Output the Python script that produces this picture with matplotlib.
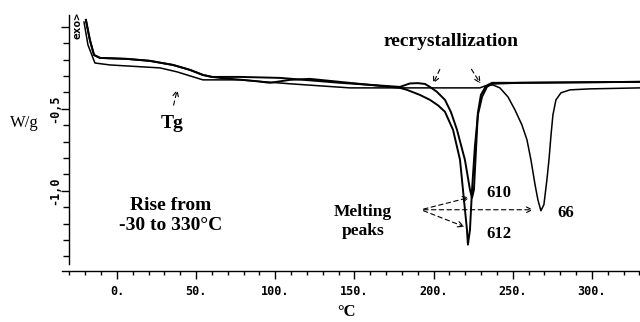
import numpy as np
import matplotlib
matplotlib.use('Agg')
from matplotlib import pyplot as plt
from matplotlib.ticker import MultipleLocator, FixedLocator

# DSC traces (deg C, W/g)
t610 = [-19.6, -17.1, -14.5, -10.7, 6.3, 20.8, 35.4, 46.1, 54.3, 60.0, 77.7, 103.0, 140.9,
        178.8, 185.0, 190.0, 194.6, 197.7, 202.0, 207.2, 211.0, 214.8, 219.8, 223.0, 224.3,
        225.5, 226.8, 228.0, 229.9, 233.1, 236.9, 254.6, 330.4]
w610 = [0.043, -0.079, -0.171, -0.189, -0.195, -0.207, -0.232, -0.262, -0.293, -0.305, -0.305,
        -0.311, -0.341, -0.366, -0.345, -0.343, -0.348, -0.366, -0.395, -0.445, -0.52, -0.628,
        -0.811, -0.994, -1.043, -0.994, -0.75, -0.524, -0.415, -0.360, -0.341, -0.341, -0.335]

t612 = [-19.6, -17.1, -14.5, -10.7, 6.3, 20.8, 35.4, 46.1, 54.3, 60.0, 65.1, 85.9, 96.7, 109.3,
        121.9, 178.8, 183.2, 191.4, 197.7, 203.0, 207.2, 212.3, 216.7, 219.2, 221.1, 221.7,
        223.0, 224.3, 226.1, 228.0, 230.6, 233.7, 236.9, 254.6, 330.4]
w612 = [0.043, -0.079, -0.171, -0.189, -0.195, -0.207, -0.232, -0.262, -0.293, -0.305, -0.311,
        -0.329, -0.341, -0.323, -0.317, -0.372, -0.384, -0.415, -0.445, -0.48, -0.518, -0.628,
        -0.811, -1.055, -1.238, -1.329, -1.238, -0.994, -0.732, -0.537, -0.427, -0.366, -0.347,
        -0.341, -0.335]

t66 = [-20.8, -18.3, -13.9, -4.4, 27.2, 37.9, 54.3, 77.7, 109.3, 147.2, 178.8, 229.3, 232.5,
       237.5, 241.9, 247.0, 251.4, 255.8, 259.0, 261.5, 264.1, 265.9, 267.8, 269.7, 271.6,
       272.9, 274.2, 275.4, 277.3, 280.5, 286.2, 298.8, 330.4]
w66 = [0.030, -0.11, -0.220, -0.232, -0.25, -0.274, -0.323, -0.323, -0.347, -0.372, -0.372,
       -0.372, -0.360, -0.354, -0.372, -0.427, -0.506, -0.598, -0.689, -0.811, -0.963, -1.055,
       -1.122, -1.085, -0.933, -0.811, -0.659, -0.537, -0.445, -0.402, -0.384, -0.378, -0.372]

x_major = [0, 50, 100, 150, 200, 250, 300]
x_labels = ['0.', '50.', '100.', '150.', '200.', '250.', '300.']
y_major = [-1.0, -0.5, 0.0]
y_labels = ['-1,0', '-0,5', '']

serif = 'Liberation Serif'
mono = 'DejaVu Sans Mono'

fig = plt.figure(figsize=(6.4, 3.22), dpi=100)
ax = fig.add_axes([62 / 640, 1 - 271 / 322, 578 / 640, (271 - 15) / 322])

ax.plot(t610, w610, color='black', lw=1.4)
ax.plot(t612, w612, color='black', lw=1.4)
ax.plot(t66, w66, color='black', lw=1.1)

ax.set_xlim(-34.7, 330.4)
ax.set_ylim(-1.49, 0.073)

for s in ['top', 'right']:
	ax.spines[s].set_visible(False)
ax.spines['left'].set_position(('data', -30))
ax.spines['left'].set_bounds(-1.45, 0.073)
ax.spines['left'].set_linewidth(1.0)
ax.spines['bottom'].set_linewidth(1.0)

ax.xaxis.set_major_locator(FixedLocator(x_major))
ax.set_xticklabels(x_labels, fontfamily=mono, fontweight='bold', fontsize=8.5)
ax.xaxis.set_minor_locator(MultipleLocator(10))
ax.tick_params(axis='x', which='major', length=6, width=1, pad=4)
ax.tick_params(axis='x', which='minor', length=3, width=1)

ax.yaxis.set_major_locator(FixedLocator(y_major))
ax.set_yticklabels(y_labels, fontfamily=mono, fontweight='bold', fontsize=8.5, rotation=90, va='center')
ax.yaxis.set_minor_locator(MultipleLocator(0.1))
ax.tick_params(axis='y', which='major', length=6, width=1, pad=0)
ax.tick_params(axis='y', which='minor', length=4, width=1)

ax.text(-24.6, 0.006, 'exo>', rotation=90, ha='center', va='center',
	fontfamily=mono, fontweight='bold', fontsize=8)

fig.text(24 / 640, 1 - 123 / 322, 'W/g', fontfamily=serif, fontsize=12, ha='center', va='center')
fig.text(347 / 640, 1 - 312 / 322, '°C', fontfamily=serif, fontweight='bold', fontsize=12,
	ha='center', va='center')

bold = dict(fontfamily=serif, fontweight='bold')
dashed = dict(arrowstyle='->', linestyle=(0, (4, 3)), lw=0.8, color='black')

ax.text(34.7, -0.591, 'Tg', fontsize=14, ha='center', va='center', **bold)
ax.annotate('', xy=(38.5, -0.366), xytext=(35.4, -0.494), arrowprops=dashed)

ax.text(211.0, -0.091, 'recrystallization', fontsize=14, ha='center', va='center', **bold)
ax.annotate('', xy=(199.0, -0.360), xytext=(204.7, -0.244), arrowprops=dashed)
ax.annotate('', xy=(230.6, -0.360), xytext=(223.0, -0.244), arrowprops=dashed)

ax.text(155.4, -1.189, 'Melting\npeaks', fontsize=12.5, ha='center', va='center',
	linespacing=1.3, **bold)
for hx, hy in [(224.3, -1.037), (221.1, -1.226), (264.7, -1.116)]:
	ax.annotate('', xy=(hx, hy), xytext=(192.0, -1.116), arrowprops=dashed)

ax.text(241.3, -1.012, '610', fontsize=12, ha='center', va='center', **bold)
ax.text(241.3, -1.262, '612', fontsize=12, ha='center', va='center', **bold)
ax.text(283.6, -1.134, '66', fontsize=12, ha='center', va='center', **bold)

ax.text(34.1, -1.152, 'Rise from\n-30 to 330°C', fontsize=14, ha='center', va='center',
	linespacing=1.2, **bold)

fig.savefig('out.png', dpi=100)
